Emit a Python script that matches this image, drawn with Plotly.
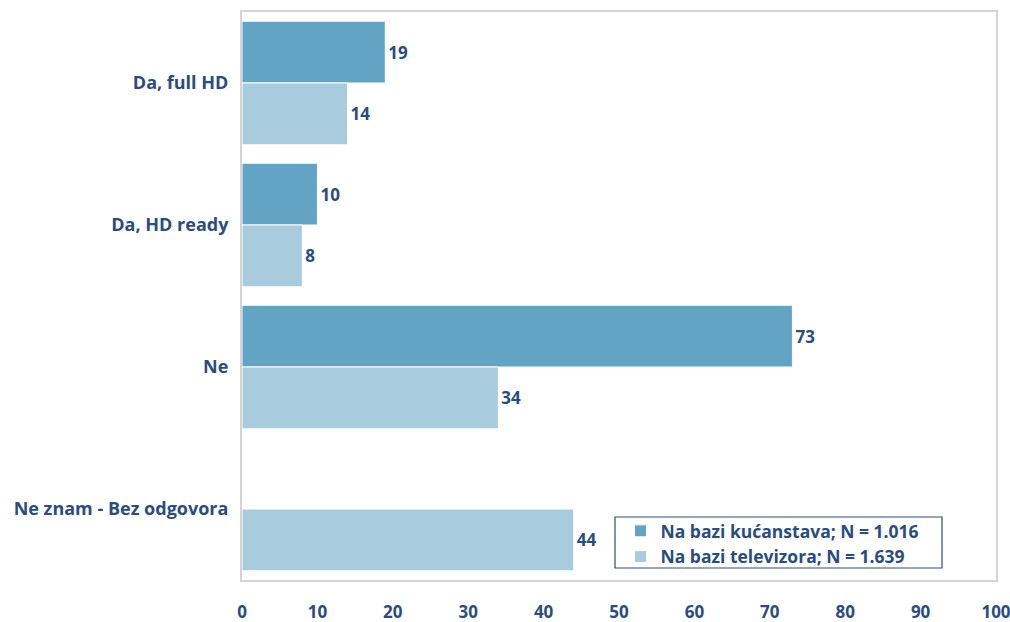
import plotly.graph_objects as go

categories = ["Da, full HD", "Da, HD ready", "Ne", "Ne znam - Bez odgovora"]
households = [19, 10, 73, None]
televisions = [14, 8, 34, 44]
series_names = ["Na bazi kućanstava; N = 1.016", "Na bazi televizora; N = 1.639"]
x_ticks = [0, 10, 20, 30, 40, 50, 60, 70, 80, 90, 100]

TXT = "#2B4C7E"
FONT = "Open Sans"
FS = 18
FN = 17

fig = go.Figure()
fig.add_trace(go.Bar(
    y=categories, x=households, orientation="h", name=series_names[0],
    marker=dict(color="#63A3C3", line=dict(color="white", width=1)),
    text=[("" if v is None else str(v)) for v in households],
    textposition="outside", cliponaxis=False,
    textfont=dict(family=FONT, size=FN, color=TXT, weight="bold"),
))
fig.add_trace(go.Bar(
    y=categories, x=televisions, orientation="h", name=series_names[1],
    marker=dict(color="#A9CBDE", line=dict(color="white", width=1)),
    text=[str(v) for v in televisions],
    textposition="outside", cliponaxis=False,
    textfont=dict(family=FONT, size=FN, color=TXT, weight="bold"),
))

# legend frame (Excel-style box around the legend)
fig.add_shape(
    type="rect", xref="paper", yref="paper",
    x0=0.4947, x1=0.9284, y0=0.0211, y1=0.1109,
    line=dict(color=TXT, width=1.2), fillcolor="white", layer="above",
)

fig.update_layout(
    width=1010, height=622,
    margin=dict(l=242, r=14, t=12, b=42),
    paper_bgcolor="white", plot_bgcolor="white",
    barmode="group", bargap=0.13, bargroupgap=0.0,
    font=dict(family=FONT, color=TXT, size=FS),
    legend=dict(
        x=0.502, y=0.118, xanchor="left", yanchor="top",
        bgcolor="rgba(0,0,0,0)", borderwidth=0,
        font=dict(family=FONT, size=17.5, color=TXT, weight="bold"),
        itemwidth=30, tracegroupgap=0,
    ),
    xaxis=dict(
        range=[0, 100], tickvals=x_ticks, ticktext=[str(t) for t in x_ticks],
        showgrid=False, zeroline=False, automargin=False,
        ticklabeloverflow="allow",
        showline=True, linecolor="#D4D4D4", linewidth=2, mirror=True,
        ticks="", ticklabelstandoff=16,
        tickfont=dict(family=FONT, size=FN, color=TXT, weight="bold"),
    ),
    yaxis=dict(
        autorange="reversed", showgrid=False, zeroline=False, automargin=False,
        showline=True, linecolor="#D4D4D4", linewidth=2, mirror=True,
        ticks="", ticklabelstandoff=8,
        tickfont=dict(family=FONT, size=FS, color=TXT, weight="bold"),
    ),
)

fig.write_html(
    "out.html",
    config={"displayModeBar": False},
    post_script="document.body.style.margin='0';document.body.style.overflow='hidden';",
)
